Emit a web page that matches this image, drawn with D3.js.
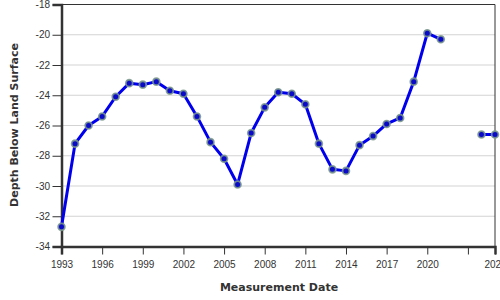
<!DOCTYPE html>
<meta charset="utf-8">
<style>
  body { margin: 0; background: #fff; }
  svg { font-family: "DejaVu Sans", Verdana, sans-serif; }
  .tick text { fill: #333; font-size: 10px; }
  .axis-title { font-size: 11px; font-weight: bold; fill: #333; }
</style>
<body>
<div id="chart"></div>
<script src="https://d3js.org/d3.v7.min.js"></script>
<script>

var years = [1993, 1994, 1995, 1996, 1997, 1998, 1999, 2000, 2001, 2002,
             2003, 2004, 2005, 2006, 2007, 2008, 2009, 2010, 2011, 2012,
             2013, 2014, 2015, 2016, 2017, 2018, 2019, 2020, 2021, 2022,
             2023, 2024, 2025];
var depths = [-32.7, -27.2, -26.0, -25.4, -24.1, -23.2, -23.3, -23.1, -23.7, -23.9,
              -25.4, -27.1, -28.2, -29.9, -26.5, -24.8, -23.8, -23.9, -24.6, -27.2,
              -28.9, -29.0, -27.3, -26.7, -25.9, -25.5, -23.1, -19.9, -20.3, null,
              null, -26.6, -26.6];
var xTicks = [1993, 1996, 1999, 2002, 2005, 2008, 2011, 2014, 2017, 2020, 2023, 2025];
var xTickLabels = ["1993", "1996", "1999", "2002", "2005", "2008", "2011", "2014", "2017", "2020", "", "2025"];
var yTicks = [-34, -32, -30, -28, -26, -24, -22, -20, -18];

var data = years.map(function(y, i) { return {year: y, depth: depths[i]}; });

// Layout
var margin = {top: 4.5, right: 5, bottom: 53.5, left: 61.5},
    width = 500 - margin.left - margin.right,
    height = 300 - margin.top - margin.bottom;

var x = d3.scaleLinear().domain([1993, 2025]).range([0, width]);
var y = d3.scaleLinear().domain([-34, -18]).range([height, 0]);

var svg = d3.select("#chart").append("svg")
    .attr("width", 500)
    .attr("height", 300)
  .append("g")
    .attr("transform", "translate(" + margin.left + "," + margin.top + ")");

// horizontal grid
svg.append("g")
    .selectAll("line")
    .data(yTicks)
    .enter().append("line")
    .attr("x1", 0)
    .attr("x2", width)
    .attr("y1", function(d) { return y(d); })
    .attr("y2", function(d) { return y(d); })
    .attr("stroke", "#d3d3d3")
    .attr("stroke-width", 1);

// top/right frame
svg.append("path")
    .attr("d", "M0,0H" + width + "V" + height)
    .attr("fill", "none")
    .attr("stroke", "#333")
    .attr("stroke-width", 1);

// axes
var xAxis = svg.append("g")
    .attr("transform", "translate(0," + height + ")")
    .call(d3.axisBottom(x)
      .tickValues(xTicks)
      .tickSize(8)
      .tickPadding(6.5)
      .tickFormat(function(d, i) { return xTickLabels[i]; }));

var yAxis = svg.append("g")
    .call(d3.axisLeft(y)
      .tickValues(yTicks)
      .tickSize(9)
      .tickPadding(2.5)
      .tickFormat(function(d) { return String(d); }));

[xAxis, yAxis].forEach(function(a) {
  a.select(".domain").attr("stroke", "#333").attr("stroke-width", 2.5);
  a.selectAll(".tick line").attr("stroke", "#333").attr("stroke-width", 1);
});

// series line
var line = d3.line()
    .defined(function(d) { return d.depth !== null; })
    .x(function(d) { return x(d.year); })
    .y(function(d) { return y(d.depth); });

svg.append("path")
    .datum(data)
    .attr("fill", "none")
    .attr("stroke", "#0000ee")
    .attr("stroke-width", 3)
    .attr("stroke-linejoin", "round")
    .attr("d", line);

svg.append("g")
    .selectAll("circle")
    .data(data.filter(function(d) { return d.depth !== null; }))
    .enter().append("circle")
    .attr("cx", function(d) { return x(d.year); })
    .attr("cy", function(d) { return y(d.depth); })
    .attr("r", 3.4)
    .attr("fill", "#0a0ac8")
    .attr("stroke", "#7d9a8c")
    .attr("stroke-opacity", 0.85)
    .attr("stroke-width", 1.8);

// axis titles
svg.append("text")
    .attr("class", "axis-title")
    .attr("text-anchor", "middle")
    .attr("x", 279 - margin.left)
    .attr("y", 291 - margin.top)
    .text("Measurement Date");

svg.append("text")
    .attr("class", "axis-title")
    .attr("text-anchor", "middle")
    .attr("transform", "translate(" + (18 - margin.left) + "," + (125 - margin.top) + ") rotate(-90)")
    .text("Depth Below Land Surface");

</script>
</body>
